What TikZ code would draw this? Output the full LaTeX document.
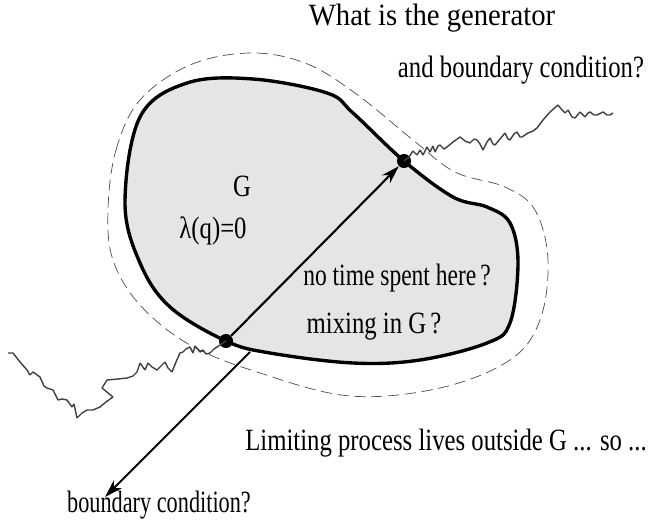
\documentclass[tikz,border=0pt]{standalone}
\usepackage{fontspec}
\setmainfont{Liberation Serif}
\usetikzlibrary{arrows.meta,decorations.pathmorphing}
\tikzset{
  txt/.style={inner sep=0pt,font=\fontsize{22}{26}\selectfont,xscale=.8},
  walk/.style={line width=1pt,black!75,line join=bevel},
  hit/.style={circle,fill=black,inner sep=0pt,minimum size=10pt},
  jump/.style={line width=1.5pt,-{Stealth[length=13pt,width=8pt]}}
}
\begin{document}
\begin{tikzpicture}[x=0.025cm,y=-0.025cm]
  \useasboundingbox (0,0) rectangle (652,525);
  \draw[black!70,line width=.5pt,dash pattern=on 8pt off 4pt] plot[smooth cycle,tension=.6] coordinates {
    (108,210) (116,150) (140,100) (190,65) (250,53) (305,63) (355,93) (413,140)
    (455,172) (505,187) (535,210) (548,260) (540,320) (510,360) (440,388)
    (350,396) (260,373) (190,345) (140,305) (113,260)};
  \draw[line width=2.4pt,fill=black!10] plot[smooth cycle,tension=.6] coordinates {
    (125,203) (140,117) (187,83) (253,79) (327,93) (353,113) (404,161) (453,197)
    (487,207) (510,223) (518,263) (510,323) (487,343) (420,360) (353,363)
    (270,353) (226,341) (170,307) (140,263)};
  \node[hit] (exit) at (404,161) {};
  \node[hit] (entry) at (226,341) {};
  \coordinate (kick) at (250,352);
  \coordinate (bctip) at (105,497);
  \draw[walk] plot coordinates {(8,353) (13,353) (20,362) (27,370) (30,375) (33,372)
    (40,377) (44,386) (47,388) (53,390) (58,400) (62,399) (67,400) (72,407) (74,404)
    (77,418) (82,413) (87,410) (93,410) (100,407) (106,402) (113,397) (102,388)
    (107,380) (118,379) (127,378) (133,376) (137,372) (140,363) (145,370) (148,363)
    (152,367) (157,370) (161,366) (165,362) (168,368) (172,372) (176,362) (180,353)
    (183,352) (186,349) (190,347) (193,353) (195,346) (197,348) (200,352) (203,350)
    (206,354) (210,353) (214,349)} -- (entry.center);
  \draw[walk] (exit.center) -- plot coordinates {(409,157) (413,151) (417,155) (420,150)
    (423,155) (427,147) (430,152) (433,146) (435,152) (438,146) (440,145) (444,149)
    (447,147) (453,142) (460,137) (465,141) (470,143) (474,139) (477,140) (480,144)
    (483,150) (487,142) (490,138) (493,144) (495,145) (500,139) (505,133) (508,139)
    (510,140) (514,134) (517,132) (520,137) (522,137) (528,133) (533,131) (537,128)
    (543,120) (550,112) (558,105) (562,110) (565,113) (568,110) (572,117) (575,118)
    (580,112) (585,117) (588,113) (590,112) (594,115) (597,115) (603,112) (607,115)
    (610,115) (613,113)};
  \draw[jump] (entry) -- (exit);
  \draw[jump] (kick) -- (bctip);
  \node[txt,xscale=1.16] (qtitle) at (432,18) {What is the generator};
  \node[txt] (qsub) at (521,70) {and boundary condition?};
  \node[txt] (gname) at (242,186) {G};
  \node[txt] (lambda) at (213,231) {λ(q)=0};
  \node[txt,xscale=.95] (notime) at (397,278) {no time spent here\,?};
  \node[txt] (mixing) at (374,327) {mixing in G\,?};
  \node[txt] (limiting) at (446,443) {Limiting process lives outside G ... so ...};
  \node[txt,xscale=.9] (bclabel) at (159,505) {boundary condition?};
\end{tikzpicture}
\end{document}
